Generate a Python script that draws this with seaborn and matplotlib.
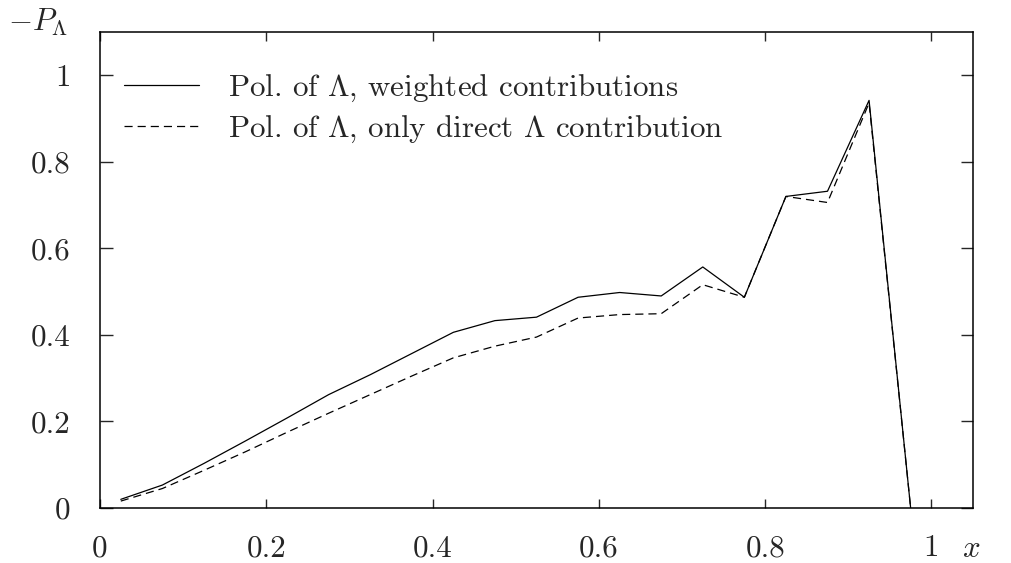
import matplotlib
matplotlib.use("Agg")
import matplotlib.pyplot as plt
import seaborn as sns
import numpy as np

# data
x_vals = [0.025, 0.075, 0.125, 0.175, 0.225, 0.275, 0.325, 0.375, 0.425, 0.475,
          0.525, 0.575, 0.625, 0.675, 0.725, 0.775, 0.825, 0.875, 0.925, 0.975]
weighted = [0.020, 0.053, 0.103, 0.155, 0.208, 0.262, 0.308, 0.357, 0.406, 0.433,
            0.441, 0.487, 0.498, 0.490, 0.557, 0.487, 0.720, 0.732, 0.942, 0.0]
direct = [0.016, 0.045, 0.087, 0.130, 0.175, 0.219, 0.262, 0.305, 0.347, 0.374,
          0.395, 0.439, 0.447, 0.449, 0.516, 0.487, 0.720, 0.706, 0.936, 0.0]
label_weighted = r"Pol. of $\Lambda$, weighted contributions"
label_direct = r"Pol. of $\Lambda$, only direct $\Lambda$ contribution"
xticks = [0, 0.2, 0.4, 0.6, 0.8, 1.0]
xticklabels = ["0", "0.2", "0.4", "0.6", "0.8", "1"]
yticks = [0, 0.2, 0.4, 0.6, 0.8, 1.0]
yticklabels = ["0", "0.2", "0.4", "0.6", "0.8", "1"]

sns.set_style("ticks")
plt.rcParams["font.family"] = ["cmr10", "DejaVu Serif"]
plt.rcParams["mathtext.fontset"] = "cm"
plt.rcParams["axes.formatter.use_mathtext"] = True
plt.rcParams["axes.unicode_minus"] = False

FS = 22.3
fig = plt.figure(figsize=(10.11, 5.63), dpi=100)
ax = fig.add_axes([100 / 1011, 1 - 508 / 563, 873 / 1011, 476 / 563])

sns.lineplot(x=x_vals, y=weighted, ax=ax, color="black", lw=0.9,
             label=label_weighted)
sns.lineplot(x=x_vals, y=direct, ax=ax, color="black", lw=0.9,
             linestyle=(0, (6.5, 4.0)), label=label_direct)

ax.set_xlim(0, 1.05)
ax.set_ylim(0, 1.1)
ax.set_xticks(xticks)
ax.set_xticklabels(xticklabels)
ax.set_yticks(yticks)
ax.set_yticklabels(yticklabels)
ax.tick_params(axis="x", direction="in", length=6.5, width=1.0, top=True,
               bottom=True, labelsize=FS, pad=19)
ax.tick_params(axis="y", direction="in", length=9, width=1.0, left=True,
               right=True, labelsize=FS, pad=21)
for s in ax.spines.values():
    s.set_linewidth(1.1)
    s.set_color("black")
ax.set_xlabel("")
ax.set_ylabel("")

leg = ax.legend(loc="upper left", bbox_to_anchor=(0.028, 0.915), frameon=False,
                fontsize=FS, handlelength=2.4, handletextpad=0.95,
                labelspacing=0.32, borderpad=0, borderaxespad=0)

fig.text(8 / 1011, 1 - 31 / 563, r"$-P_\Lambda$", fontsize=FS, ha="left",
         va="baseline")
fig.text(971 / 1011, 1 - 549 / 563, r"$x$", fontsize=FS, ha="center",
         va="center")

fig.savefig("out.png", dpi=100, facecolor="white")
